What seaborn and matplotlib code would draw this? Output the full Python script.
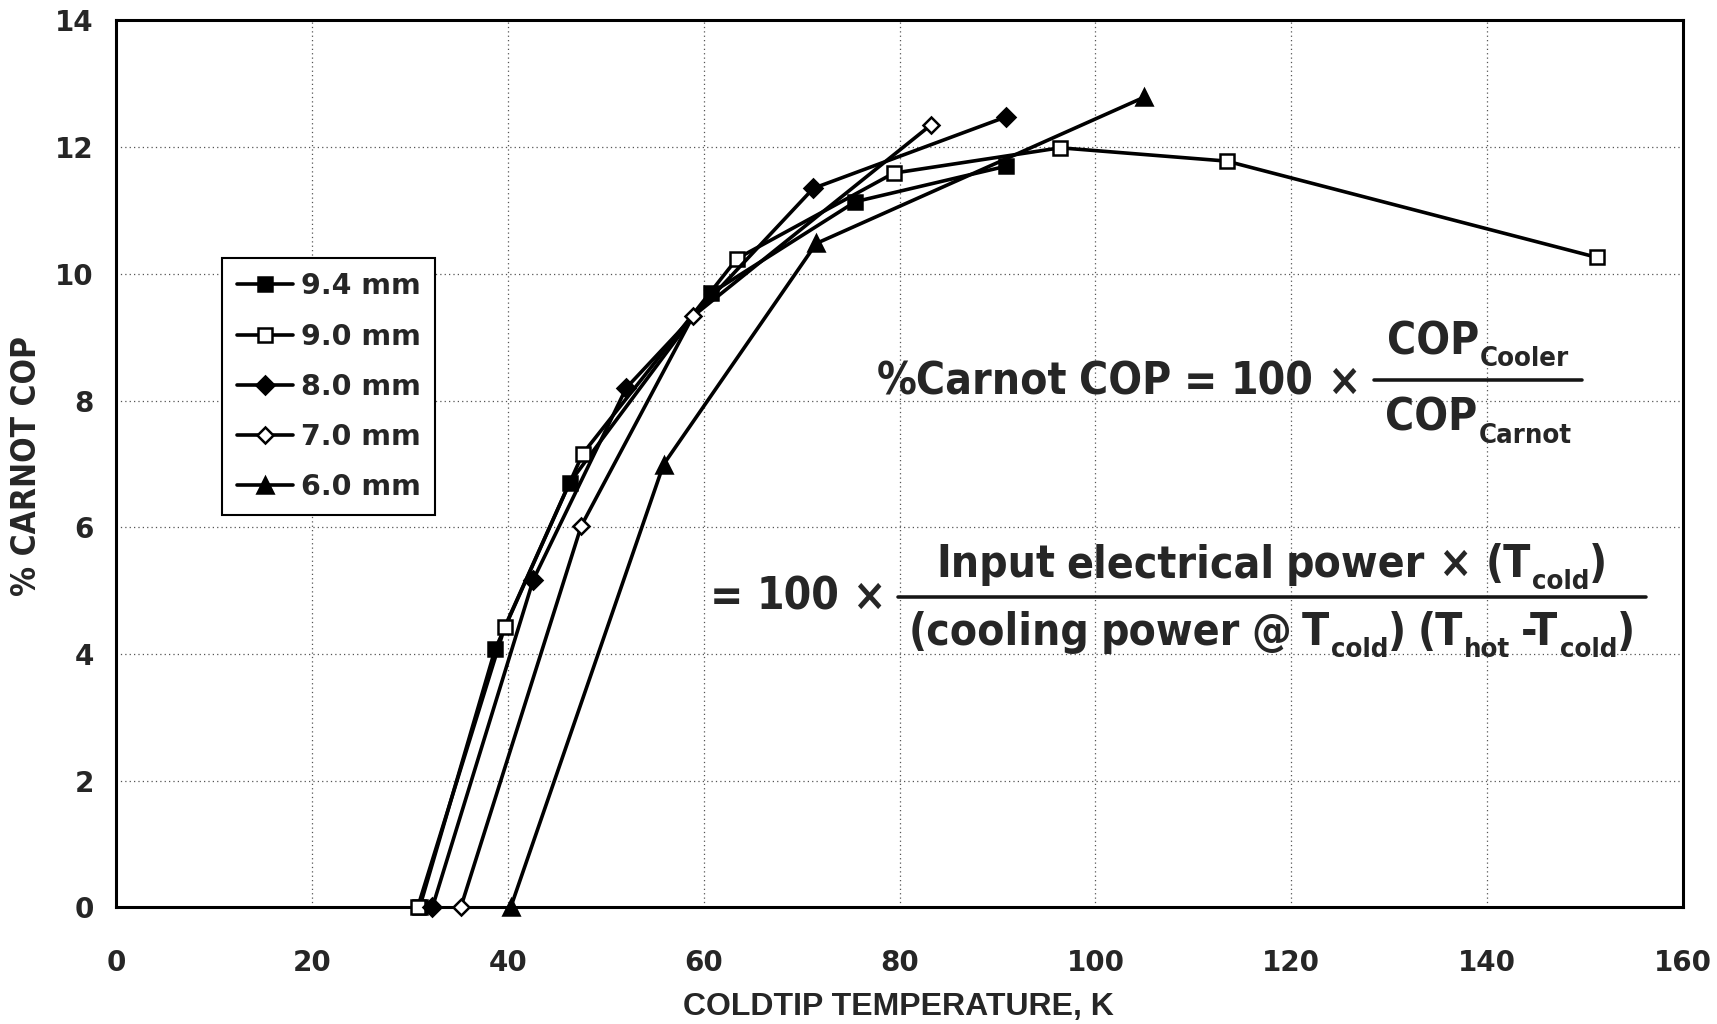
import os
import matplotlib
matplotlib.use("Agg")
import matplotlib.pyplot as plt
from matplotlib import font_manager
from matplotlib.font_manager import FontProperties
from matplotlib.lines import Line2D
import seaborn as sns
import pandas as pd

# ---------------- data ----------------
t_94 = [31.0, 38.7, 46.3, 60.7, 75.5, 90.9]
c_94 = [0.0, 4.07, 6.70, 9.69, 11.14, 11.70]

t_90 = [30.8, 39.7, 47.65, 63.4, 79.4, 96.4, 113.4, 151.2]
c_90 = [0.0, 4.43, 7.16, 10.24, 11.59, 11.99, 11.78, 10.26]

t_80 = [32.3, 42.6, 52.1, 71.2, 90.9]
c_80 = [0.0, 5.17, 8.20, 11.35, 12.48]

t_70 = [35.2, 47.5, 58.9, 83.2]
c_70 = [0.0, 6.02, 9.33, 12.35]

t_60 = [40.3, 55.9, 71.5, 105.0]
c_60 = [0.0, 6.99, 10.48, 12.79]

series_labels = ["9.4 mm", "9.0 mm", "8.0 mm", "7.0 mm", "6.0 mm"]
x_ticks = [0, 20, 40, 60, 80, 100, 120, 140, 160]
y_ticks = [0, 2, 4, 6, 8, 10, 12, 14]

# ---------------- fonts ----------------
sns.set_style("white")
plt.rcParams["font.family"] = ["DejaVu Sans"]

all_files = [f.fname for f in font_manager.fontManager.ttflist]


def find_file(names):
    for n in names:
        for fn in all_files:
            if os.path.basename(fn).lower() == n.lower():
                return fn
    return None


cond_file = find_file([
    "LiberationSansNarrow-Bold.ttf", "DejaVuSansCondensed-Bold.ttf",
    "NotoSans-CondensedBold.ttf", "OpenSans-CondensedBold.ttf",
    "OpenSansCondensed-Bold.ttf", "RobotoCondensed-Bold.ttf",
    "Roboto-CondensedBold.ttf"])
if cond_file is None:
    for fn in all_files:
        b = os.path.basename(fn).lower()
        if (("narrow" in b or "condensed" in b) and "bold" in b
                and "italic" not in b and "semi" not in b and "extra" not in b):
            cond_file = fn
            break
if cond_file:
    FP_COND = FontProperties(fname=cond_file)
else:
    FP_COND = FontProperties(family="Liberation Sans", weight="bold")

BOLD = "DejaVu Sans"
ARIAL = "Liberation Sans"

fig = plt.figure(figsize=(17.17, 10.24), dpi=100)
ax = fig.add_axes([0.0676, 0.114, 0.9126, 0.866])

specs = [
    (t_94, c_94, "s", "black", 10.5),
    (t_90, c_90, "s", "white", 10.5),
    (t_80, c_80, "D", "black", 9.0),
    (t_70, c_70, "D", "white", 8.0),
    (t_60, c_60, "^", "black", 12),
]
for (tx, cy, mk, fc, ms), lab in zip(specs, series_labels):
    df = pd.DataFrame({"T": tx, "C": cy})
    sns.lineplot(data=df, x="T", y="C", ax=ax, color="black", lw=2.6,
                 marker=mk, markersize=ms, markerfacecolor=fc,
                 markeredgecolor="black", markeredgewidth=1.8,
                 label=lab, sort=False, estimator=None, zorder=3,
                 clip_on=False)

ax.set_xlim(0, 160)
ax.set_ylim(0, 14)
ax.set_xticks(x_ticks)
ax.set_yticks(y_ticks)
ax.set_xticklabels([str(v) for v in x_ticks], fontsize=20, fontweight="bold",
                   family=BOLD)
ax.set_yticklabels([str(v) for v in y_ticks], fontsize=20, fontweight="bold",
                   family=BOLD)
ax.tick_params(axis="x", length=6, width=1.2, pad=24, direction="out")
ax.tick_params(axis="y", length=6, width=1.2, pad=10, direction="out")
ax.grid(True, linestyle=(0, (1, 2.5)), color="#555555", linewidth=0.9)
for s in ax.spines.values():
    s.set_linewidth(2.2)
    s.set_color("black")

ax.set_xlabel("COLDTIP TEMPERATURE, K", fontsize=23, fontweight="bold",
              family=ARIAL)
ax.xaxis.set_label_coords(0.499, -0.113)
ax.xaxis.label.set_va("center")
ylp = FP_COND.copy()
ylp.set_size(24)
ax.set_ylabel("% CARNOT COP", fontproperties=ylp)
ax.yaxis.set_label_coords(-0.0573, 0.498)
ax.yaxis.label.set_va("center")

leg = ax.legend(loc="upper left", bbox_to_anchor=(0.0678, 0.732),
                borderaxespad=0, frameon=True, fancybox=False,
                framealpha=1, edgecolor="black",
                prop={"size": 20.5, "weight": "bold", "family": BOLD},
                handlelength=2.0, handletextpad=0.25, labelspacing=0.78,
                borderpad=0.5)
leg.get_frame().set_linewidth(1.5)

# ---------------- formula (built from text pieces) ----------------
fig.canvas.draw()
R = fig.canvas.get_renderer()
W, H = fig.bbox.width, fig.bbox.height
SUB_SCALE = 0.62
SUB_DROP = 0.27


def put(x, ybase, s, size):
    fp = FP_COND.copy()
    fp.set_size(size)
    t = fig.text(x / W, 1 - ybase / H, s, fontproperties=fp,
                 ha="left", va="baseline")
    w = t.get_window_extent(R).width
    return t, w


def run(x, ybase, pieces, size, draw=True):
    """pieces: list of (text, kind); kind 'n' normal, 's' subscript, 'g' gap (em)."""
    em = size * 100 / 72.0
    arts = []
    x0 = x
    for s, kind in pieces:
        if kind == "g":
            x += s * em
            continue
        sz = size if kind == "n" else size * SUB_SCALE
        yb = ybase if kind == "n" else ybase + SUB_DROP * em
        t, w = put(x, yb, s, sz)
        arts.append(t)
        x += w
    if not draw:
        for a in arts:
            a.remove()
    return x - x0


left1 = [("%Carnot", "n"), (0.25, "g"), ("COP", "n"), (0.3, "g"), ("=", "n"),
         (0.3, "g"), ("100", "n"), (0.3, "g"), ("\u00d7", "n")]
num1 = [("COP", "n"), (0.03, "g"), ("Cooler", "s")]
den1 = [("COP", "n"), (0.03, "g"), ("Carnot", "s")]
left2 = [("=", "n"), (0.3, "g"), ("100", "n"), (0.3, "g"), ("\u00d7", "n")]
num2 = [("Input", "n"), (0.25, "g"), ("electrical", "n"), (0.25, "g"),
        ("power", "n"), (0.3, "g"), ("\u00d7", "n"), (0.3, "g"), ("(T", "n"),
        (0.03, "g"), ("cold", "s"), (")", "n")]
den2 = [("(cooling", "n"), (0.25, "g"), ("power", "n"), (0.25, "g"),
        ("@", "n"), (0.25, "g"), ("T", "n"), (0.03, "g"), ("cold", "s"),
        (")", "n"), (0.25, "g"), ("(T", "n"), (0.03, "g"), ("hot", "s"),
        (0.25, "g"), ("-T", "n"), (0.03, "g"), ("cold", "s"), (")", "n")]

NOMINAL = 35.0
wtest = run(0, 0, den2, NOMINAL, draw=False)
size = NOMINAL * min(1.0, 727.0 / wtest)
em = size * 100 / 72.0
k = size / NOMINAL


def fraction(cx, ybar, num, den, left, num_off, den_off, left_off, gap):
    wn = run(0, 0, num, size, draw=False)
    wd = run(0, 0, den, size, draw=False)
    wl = run(0, 0, left, size, draw=False)
    half = max(wn, wd) / 2 + 0.25 * em
    run(cx - wn / 2, ybar - num_off * em, num, size)
    run(cx - wd / 2, ybar + den_off * em, den, size)
    x_bar0 = cx - half
    run(x_bar0 - gap * em - wl, ybar + left_off * em, left, size)
    fig.add_artist(Line2D([x_bar0 / W, (cx + half) / W],
                          [1 - ybar / H, 1 - ybar / H],
                          transform=fig.transFigure, color="#151515",
                          lw=2.8 * max(k, 0.6)))


fraction(1478, 380, num1, den1, left1, 0.58, 1.15, 0.33, 0.3)
fraction(1272, 597, num2, den2, left2, 0.45, 1.09, 0.29, 0.27)

fig.savefig("out.png", dpi=100)
